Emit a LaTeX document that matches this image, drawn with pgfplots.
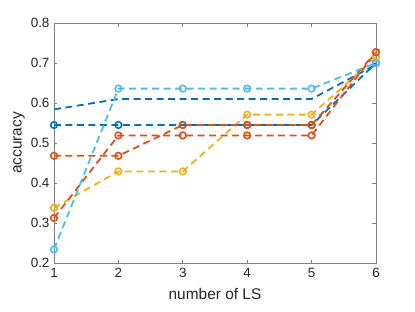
\documentclass[border=0pt]{standalone}
\usepackage{pgfplots}
\pgfplotsset{compat=1.18}
\usepackage{fontspec}
\setmainfont{Liberation Sans}
\definecolor{mblue}{HTML}{0072BD}
\definecolor{mred}{HTML}{D95319}
\definecolor{myellow}{HTML}{EDB120}
\definecolor{mlblue}{HTML}{4DBEEE}
\begin{document}
\begin{tikzpicture}
\useasboundingbox (-54bp,-49bp) rectangle (361bp,263bp);
\begin{axis}[
  at={(0,0)}, anchor=south west,
  scale only axis, width=322bp, height=240bp,
  xmin=1, xmax=6, ymin=0.2, ymax=0.8,
  xtick={1,2,3,4,5,6},
  ytick={0.2,0.3,0.4,0.5,0.6,0.7,0.8},
  tick align=inside,
  major tick length=3.5bp,
  axis line style={black!50, line width=0.8bp},
  every tick/.style={black!50, line width=0.8bp},
  tick label style={font=\fontsize{13.5}{15}\selectfont, text=black!85},
  /pgf/number format/assume math mode=true,
  xticklabel style={yshift=-2bp},
  yticklabel style={/pgf/number format/fixed, /pgf/number format/precision=1, /pgf/number format/fixed zerofill, xshift=-1bp},
  xlabel={number of LS}, ylabel={accuracy},
  label style={font=\fontsize{15.5}{17}\selectfont, text=black!85},
  xlabel style={yshift=-3bp},
  ylabel style={yshift=-1bp},
  every axis plot/.append style={line width=1.8bp, dash pattern=on 7bp off 4.5bp},
  mark options={solid, line width=1.6bp, fill=white},
  mark size=3.3bp,
  clip=false,
]
\addplot[mblue, no marks] coordinates {(1,0.584) (2,0.610) (3,0.610) (4,0.610) (5,0.610) (6,0.696)};
\addplot[mblue, mark=o] coordinates {(1,0.545) (2,0.545) (3,0.545) (4,0.545) (5,0.545) (6,0.700)};
\addplot[myellow, mark=o] coordinates {(1,0.338) (2,0.429) (3,0.429) (4,0.571) (5,0.571) (6,0.714)};
\addplot[mred, mark=o] coordinates {(1,0.3125) (2,0.519) (3,0.519) (4,0.519) (5,0.519) (6,0.727)};
\addplot[mred, mark=o] coordinates {(1,0.468) (2,0.468) (3,0.545) (4,0.545) (5,0.545) (6,0.727)};
\addplot[mlblue, mark=o] coordinates {(1,0.234) (2,0.636) (3,0.636) (4,0.636) (5,0.636) (6,0.700)};
\end{axis}
\end{tikzpicture}
\end{document}
